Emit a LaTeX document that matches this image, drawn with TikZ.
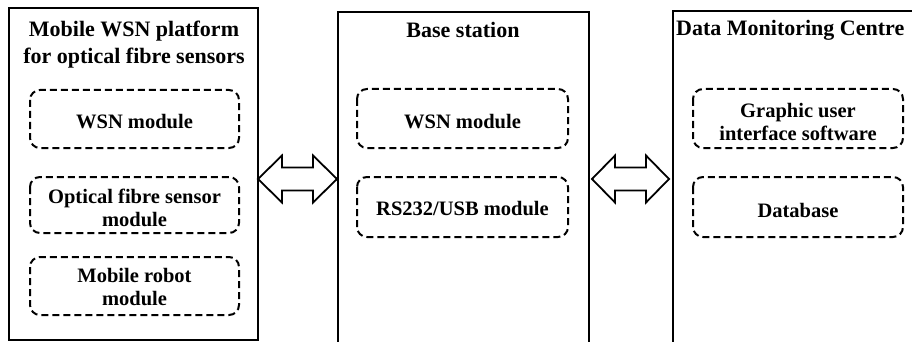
\documentclass[tikz,border=0pt]{standalone}
\usepackage{fontspec}
\setmainfont{Liberation Serif}
\begin{document}
\begin{tikzpicture}[x=1pt,y=-1pt,
  outer/.style={draw=black,line width=2pt},
  module/.style={draw=black,line width=2pt,dash pattern=on 7pt off 4pt,rounded corners=10pt},
  txt/.style={font=\fontsize{20.5}{23}\selectfont\bfseries,align=center,inner sep=0pt},
  ttl/.style={font=\fontsize{22}{27}\selectfont\bfseries,align=center,inner sep=0pt},
  dblarrow/.style={draw=black,line width=1.8pt,fill=white,line join=miter}]
\useasboundingbox (0,0) rectangle (912,342);
\clip (0,0) rectangle (912,342);
% outer boxes
\draw[outer] (9,8) coordinate (L1) rectangle (258,340) coordinate (L2);
\draw[outer] (338,12) coordinate (M1) rectangle (589,350) coordinate (M2);
\draw[outer] (673,11) coordinate (R1) rectangle (930,350) coordinate (R2);
% titles
\node[ttl] (tl) at (134,44.5) {Mobile WSN platform\\for optical fibre sensors};
\node[ttl] (tm) at (463,30) {Base station};
\node[ttl,anchor=west] (tr) at (676,30) {Data Monitoring Centre};
% modules left
\draw[module] (30,90) rectangle (239,148);
\node[txt] (l1) at (134.5,122) {WSN module};
\draw[module] (30,177) rectangle (239,233);
\node[txt] (l2) at (134.5,207.5) {Optical fibre sensor\\module};
\draw[module] (30,257) rectangle (239,315);
\node[txt] (l3) at (134.5,287) {Mobile robot\\module};
% modules middle
\draw[module] (357,89) rectangle (568,148);
\node[txt] (m1) at (462.5,122) {WSN module};
\draw[module] (357,177) rectangle (568,237);
\node[txt] (m2) at (462.5,209) {RS232/USB module};
% modules right
\draw[module] (693,89) rectangle (903,148);
\node[txt] (r1) at (798,121.5) {Graphic user\\interface software};
\draw[module] (693,177) rectangle (903,237);
\node[txt] (r2) at (798,210) {Database};
% arrows
\draw[dblarrow] (258,179) -- (282,155.5) -- (282,167.5) -- (313,167.5) -- (313,155.5)
  -- (337,179) -- (313,202.5) -- (313,190.5) -- (282,190.5) -- (282,202.5) -- cycle;
\draw[dblarrow] (592,179) -- (615,155.5) -- (615,167.5) -- (646,167.5) -- (646,155.5)
  -- (669,179) -- (646,202.5) -- (646,190.5) -- (615,190.5) -- (615,202.5) -- cycle;
\end{tikzpicture}
\end{document}
